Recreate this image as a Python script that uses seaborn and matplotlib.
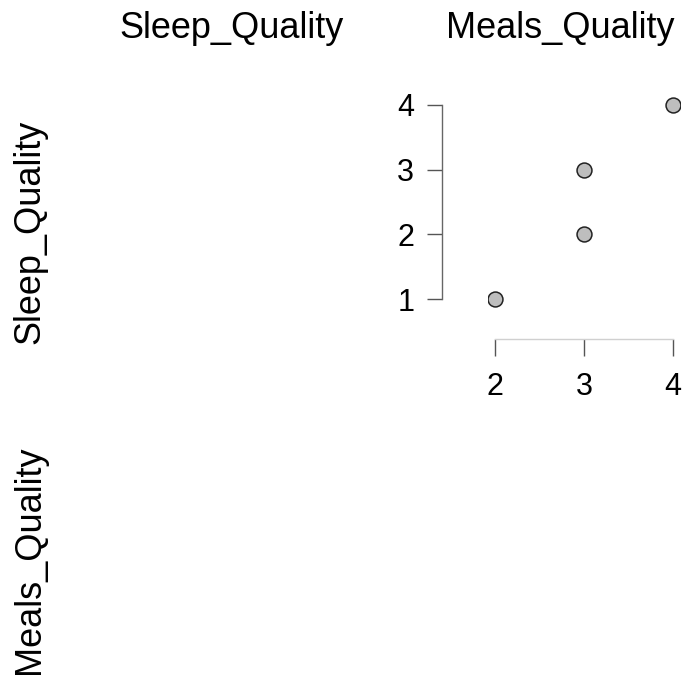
import matplotlib
matplotlib.use("Agg")
import matplotlib.pyplot as plt
import seaborn as sns
import pandas as pd

# data
sleep_quality = [1, 2, 3, 4]
meals_quality = [2, 3, 3, 4]
variables = ["Sleep_Quality", "Meals_Quality"]
x_ticks = [2, 3, 4]
y_ticks = [1, 2, 3, 4]

df = pd.DataFrame({"Sleep_Quality": sleep_quality, "Meals_Quality": meals_quality})

sns.set_theme(style="white")
plt.rcParams["font.family"] = ["Liberation Sans", "DejaVu Sans"]
plt.rcParams["text.color"] = "black"
plt.rcParams["xtick.labelcolor"] = "black"
plt.rcParams["ytick.labelcolor"] = "black"

W, H = 686, 677
fig = plt.figure(figsize=(W / 100, H / 100), dpi=100)

# upper-right panel of the pairs layout
left, right, top, bottom = 487.9, 680.1, 97.2, 306.8
ax = fig.add_axes([left / W, 1 - bottom / H, (right - left) / W, (bottom - top) / H])
sns.scatterplot(data=df, x="Meals_Quality", y="Sleep_Quality", ax=ax,
                color="#bebebe", edgecolor="#222222", linewidth=1.1, s=115)

ax.set_xlim(1.92, 4.08)
ax.set_ylim(0.88, 4.12)
ax.set_xticks(x_ticks)
ax.set_yticks(y_ticks)
ax.set_xlabel("")
ax.set_ylabel("")

# R-style detached axes
for side in ["top", "right"]:
    ax.spines[side].set_visible(False)
ax.spines["left"].set_position(("outward", 33))
ax.spines["bottom"].set_position(("outward", 23))
ax.spines["left"].set_bounds(1, 4)
ax.spines["bottom"].set_bounds(2, 4)
ax.spines["left"].set_color("#666666")
ax.spines["bottom"].set_color("#d0d0d0")
ax.spines["left"].set_linewidth(1.0)
ax.spines["bottom"].set_linewidth(1.0)
ax.tick_params(axis="y", direction="out", length=11, width=1, color="#555555",
               pad=9, labelsize=22, left=True)
ax.tick_params(axis="x", direction="out", length=12, width=1, color="#555555",
               pad=12, labelsize=22, bottom=True)

# variable names around the grid
fig.text(232 / W, 1 - 28 / H, variables[0], ha="center", va="center", fontsize=26)
fig.text(560 / W, 1 - 28 / H, variables[1], ha="center", va="center", fontsize=26)
fig.text(30 / W, 1 - 232 / H, variables[0], ha="center", va="center", fontsize=26, rotation=90)
fig.text(30 / W, 1 - 560 / H, variables[1], ha="center", va="center", fontsize=26, rotation=90)

fig.savefig("out.png", dpi=100)
